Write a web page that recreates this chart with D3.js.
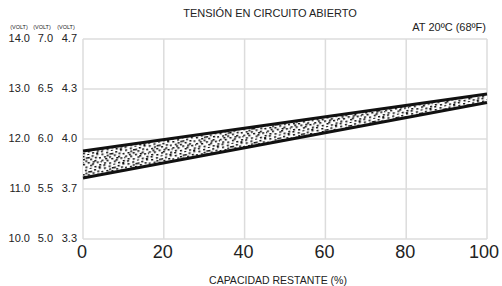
<!DOCTYPE html>
<html>
<head>
<meta charset="utf-8">
<script src="https://cdn.jsdelivr.net/npm/d3@7/dist/d3.min.js"></script>
<style>
  body { margin: 0; background: #fff; }
  text { font-family: Arial, "Liberation Sans", sans-serif; fill: #222; }
</style>
</head>
<body>
<script>
// capacity ticks and the three voltage scales (12V, 6V, single cell)
var capacityTicks = [0, 20, 40, 60, 80, 100];
var volt12 = [10.0, 11.0, 12.0, 13.0, 14.0];
var volt6  = ["5.0", "5.5", "6.0", "6.5", "7.0"];
var voltCell = ["3.3", "3.7", "4.0", "4.3", "4.7"];

// band edges (12V scale) at 0% and 100%
var bandCapacity = [0, 100];
var bandUpper = [11.76, 12.9];
var bandLower = [11.22, 12.73];

// stipple dots for the band texture (tile 24 x 14)
var stipple = [[1,1],[6,0],[11,2],[15,1],[20,0],[3,4],[8,5],[13,4],[17,6],[22,4],
  [0,7],[5,8],[10,7],[14,9],[19,8],[2,10],[7,11],[12,10],[16,12],[21,11],
  [9,2],[4,6],[18,3],[23,8],[1,12],[11,13],[6,3],[15,7],[20,13]];

var width = 502, height = 286;

var svg = d3.select("body").append("svg")
    .attr("width", width)
    .attr("height", height);

var x = d3.scaleLinear().domain([0, 100]).range([83, 487]);
var y = d3.scaleLinear().domain([10, 14]).range([239, 39]);

var pat = svg.append("defs").append("pattern")
    .attr("id", "dots")
    .attr("patternUnits", "userSpaceOnUse")
    .attr("width", 24).attr("height", 14)
    .attr("patternTransform", "rotate(-10)");
pat.append("rect").attr("width", 24).attr("height", 14).attr("fill", "#fff");
pat.selectAll("rect.d").data(stipple).enter().append("rect")
    .attr("class", "d")
    .attr("x", function(d) { return d[0]; })
    .attr("y", function(d) { return d[1]; })
    .attr("width", 2.2).attr("height", 1.5)
    .attr("fill", "#111");

// grid
var grid = svg.append("g").attr("stroke", "#dcdcdc").attr("stroke-width", 1.5);
grid.selectAll("line.v").data(capacityTicks).enter().append("line")
    .attr("x1", function(d) { return x(d); }).attr("x2", function(d) { return x(d); })
    .attr("y1", y(14)).attr("y2", y(10));
grid.selectAll("line.h").data(volt12).enter().append("line")
    .attr("x1", x(0)).attr("x2", x(100))
    .attr("y1", function(d) { return y(d); }).attr("y2", function(d) { return y(d); });

// band
var bandData = bandCapacity.map(function(c, i) { return {c: c, lo: bandLower[i], hi: bandUpper[i]}; });
svg.append("path")
    .datum(bandData)
    .attr("fill", "url(#dots)")
    .attr("d", d3.area()
      .x(function(d) { return x(d.c); })
      .y0(function(d) { return y(d.lo); })
      .y1(function(d) { return y(d.hi); }));

["hi", "lo"].forEach(function(k) {
  svg.append("path")
    .datum(bandData)
    .attr("fill", "none")
    .attr("stroke", "#111")
    .attr("stroke-width", 3)
    .attr("d", d3.line()
      .x(function(d) { return x(d.c); })
      .y(function(d) { return y(d[k]); }));
});

// y labels: three columns
var cols = [
  {end: 30, labels: volt12.map(function(v) { return v.toFixed(1); })},
  {end: 53, labels: volt6},
  {end: 77, labels: voltCell}
];
cols.forEach(function(col) {
  svg.selectAll(null).data(col.labels).enter().append("text")
    .attr("x", col.end)
    .attr("y", function(d, i) { return y(volt12[i]) + 3; })
    .attr("text-anchor", "end")
    .attr("font-size", 11)
    .text(function(d) { return d; });
  svg.append("text")
    .attr("x", col.end - 11)
    .attr("y", 29)
    .attr("text-anchor", "middle")
    .attr("font-size", 5.5)
    .text("(VOLT)");
});

// x labels
svg.selectAll("text.xt").data(capacityTicks).enter().append("text")
    .attr("class", "xt")
    .attr("x", function(d) { return x(d) - (d === 100 ? 3 : 1); })
    .attr("y", 258)
    .attr("text-anchor", "middle")
    .attr("font-size", 18)
    .text(function(d) { return d; });

svg.append("text")
    .attr("x", 278).attr("y", 284)
    .attr("text-anchor", "middle")
    .attr("font-size", 10.5)
    .text("CAPACIDAD RESTANTE (%)");

svg.append("text")
    .attr("x", 270).attr("y", 17)
    .attr("text-anchor", "middle")
    .attr("font-size", 11)
    .text("TENSIÓN EN CIRCUITO ABIERTO");

svg.append("text")
    .attr("x", 486).attr("y", 31)
    .attr("text-anchor", "end")
    .attr("font-size", 11)
    .text("AT 20ºC (68ºF)");
</script>
</body>
</html>
